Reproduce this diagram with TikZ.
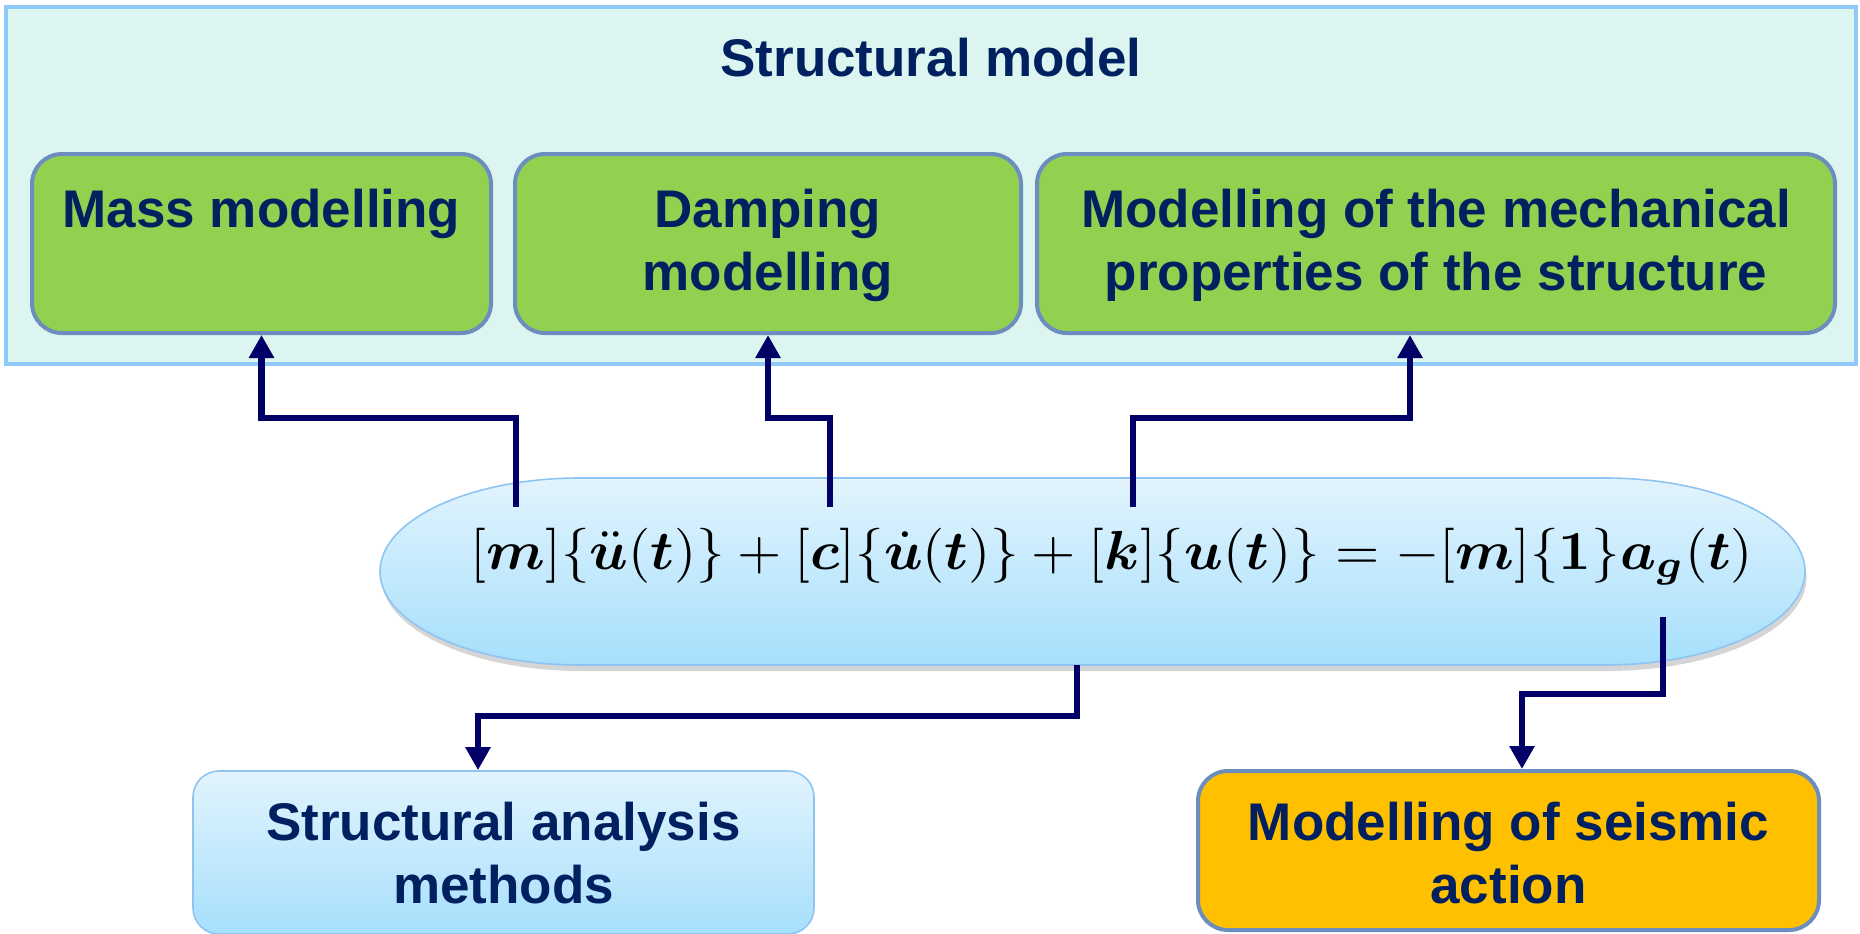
\documentclass[tikz,border=0pt]{standalone}
\usepackage[no-math]{fontspec}
\setmainfont{Liberation Sans}
\usepackage{amsmath}
\usepackage{bm}
\usepackage{graphicx}
\usetikzlibrary{arrows.meta,shadows,calc}

\definecolor{txtC}{HTML}{002060}
\definecolor{arrC}{HTML}{000066}
\definecolor{mintC}{HTML}{DDF5F1}
\definecolor{mintB}{HTML}{8EC9FA}
\definecolor{greenC}{HTML}{92D050}
\definecolor{boxB}{HTML}{6C8EBF}
\definecolor{orangeC}{HTML}{FFC000}
\definecolor{skyTop}{HTML}{E2F4FD}
\definecolor{skyBot}{HTML}{A6DFFC}
\definecolor{skyB}{HTML}{8EC4F2}

\newsavebox{\motionbox}
\newcommand{\bv}[1]{\bm{#1}}

\tikzset{
  frame/.style={draw=mintB, fill=mintC, line width=2pt, inner sep=0pt},
  greenbox/.style={draw=boxB, fill=greenC, line width=2pt, rounded corners=15pt, inner sep=0pt},
  orangebox/.style={draw=boxB, fill=orangeC, line width=2pt, rounded corners=15pt, inner sep=0pt},
  skybox/.style={draw=skyB, top color=skyTop, bottom color=skyBot, line width=0.8pt, rounded corners=13pt, inner sep=0pt},
  label/.style={font=\fontsize{26.5pt}{31.5pt}\selectfont\bfseries, text=txtC, align=center, inner sep=0pt, anchor=north},
  link/.style={draw=arrC, line width=3.25pt, -{Triangle[width=12pt,length=11.5pt]}},
}

\begin{document}
% equation of motion, scaled so that a bracket is 27.5pt tall
\sbox{\motionbox}{%
  \resizebox*{641pt}{27.5pt}{$\smash{[\bv{m}]\{\ddot{\bv{u}}(\bv{t})\}+[\bv{c}]\{\dot{\bv{u}}(\bv{t})\}+[\bv{k}]\{\bv{u}(\bv{t})\}=-[\bv{m}]\{\mathbf{1}\}\bv{a}_{\bv{g}}(\bv{t})}\vphantom{[}$}}%
\begin{tikzpicture}[x=0.5pt,y=-0.5pt]
\useasboundingbox (0,0) rectangle (1860,933);

% structural model frame and its three sub-models
\node[frame, minimum width=925pt, minimum height=178.5pt] (model) at (931,185.5) {};
\node[label] (modelT) at (931,38) {Structural model};

\node[greenbox, minimum width=229.5pt, minimum height=89.5pt] (mass) at (261.5,243.5) {};
\node[greenbox, minimum width=253pt, minimum height=89.5pt] (damp) at (768,243.5) {};
\node[greenbox, minimum width=399pt, minimum height=89.5pt] (mech) at (1436,243.5) {};
\node[label] (massT) at (261.5,189) {Mass modelling};
\node[label] (dampT) at (768,189) {Damping\\modelling};
\node[label] (mechT) at (1436,189) {Modelling of the mechanical\\properties of the structure};

% equation capsule
\path[draw=skyB, line width=0.8pt, top color=skyTop, bottom color=skyBot,
      drop shadow={shadow xshift=0.8pt, shadow yshift=-3pt, opacity=0.3, fill=black!55}]
  (580,478) -- (1605,478)
  .. controls (1715.5,478) and (1805,519.9) .. (1805,571.5)
  .. controls (1805,623.1) and (1715.5,665) .. (1605,665)
  -- (580,665)
  .. controls (469.5,665) and (380,623.1) .. (380,571.5)
  .. controls (380,519.9) and (469.5,478) .. (580,478) -- cycle;
\node[inner sep=0pt, anchor=base] (eq) at (1112,569) {\usebox{\motionbox}};

% lower boxes
\node[skybox, minimum width=310.5pt, minimum height=81.5pt] (anal) at (503.5,852.5) {};
\node[orangebox, minimum width=310.5pt, minimum height=79.5pt] (seis) at (1508.5,850.5) {};
\node[label] (analT) at (503.5,802) {Structural analysis\\methods};
\node[label] (seisT) at (1508.5,802) {Modelling of seismic\\action};

% connector end points on the equation
\coordinate (pm) at (516,507);
\coordinate (pc) at (830,507);
\coordinate (pk) at (1133,507);
\coordinate (pr) at (1077,665);
\coordinate (pa) at (1663,617);

% connectors
\draw[link] (pm) -- ++(0,-89) -| (mass.south);
\draw[link] (pc) -- ++(0,-89) -| (damp.south);
\draw[link] (pk) -- ++(0,-89) -| ($(mech.south)+(-26,0)$);
\draw[link] (pr) -- ++(0,51) -| ($(anal.north)+(-25.5,0)$);
\draw[link] (pa) -- ++(0,77) -| ($(seis.north)+(13.5,0)$);
\end{tikzpicture}
\end{document}
